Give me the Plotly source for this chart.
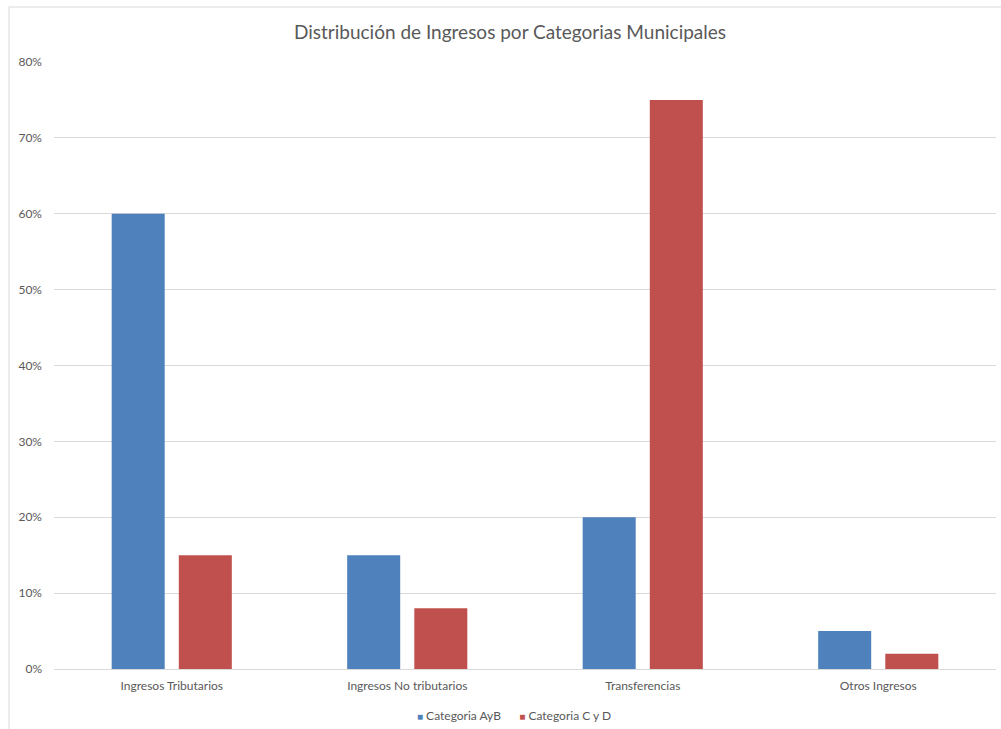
import plotly.graph_objects as go

# Income categories and shares (percent of total income) per municipal group
categorias = ["Ingresos Tributarios", "Ingresos No tributarios", "Transferencias", "Otros Ingresos"]
serie_ayb = [60, 15, 20, 5]
serie_cyd = [15, 8, 75, 2]
nombre_ayb = "Categoria AyB"
nombre_cyd = "Categoria C y D"
titulo = "Distribución de Ingresos por Categorias Municipales"
ticks_y = [0, 10, 20, 30, 40, 50, 60, 70, 80]

FONT = "Lato, 'Open Sans', sans-serif"
GRIS_TEXTO = "#595959"
GRIS_LINEA = "#D9D9D9"
AZUL = "#4F81BD"
ROJO = "#C0504D"

fig = go.Figure()
fig.add_trace(go.Bar(x=categorias, y=[v / 100 for v in serie_ayb], name=nombre_ayb,
                     marker=dict(color=AZUL, line=dict(width=0))))
fig.add_trace(go.Bar(x=categorias, y=[v / 100 for v in serie_cyd], name=nombre_cyd,
                     marker=dict(color=ROJO, line=dict(width=0))))

# Compact legend row under the axis: small coloured squares followed by the series names
leyenda = (f"<span style='color:{AZUL}; font-size:10px'>■</span> {nombre_ayb}"
           f"      <span style='color:{ROJO}; font-size:10px'>■</span> {nombre_cyd}")

fig.update_layout(
    width=1001, height=729,
    margin=dict(l=54, r=5, t=62, b=60),
    paper_bgcolor="white", plot_bgcolor="white",
    barmode="group", bargap=0.43, bargroupgap=0.21,
    font=dict(family=FONT, color=GRIS_TEXTO, size=12),
    title=dict(text=titulo, x=510 / 1001, xanchor="center", xref="container",
               y=1 - 32 / 729, yanchor="middle", yref="container",
               font=dict(size=19, color=GRIS_TEXTO, family=FONT)),
    showlegend=False,
    annotations=[dict(text=leyenda, xref="paper", yref="paper",
                      x=(514 - 54) / 942, xanchor="center",
                      y=-(715 - 669) / 607, yanchor="middle", showarrow=False,
                      font=dict(size=12, color=GRIS_TEXTO, family=FONT))],
    xaxis=dict(showgrid=False, showline=True, linecolor=GRIS_LINEA, linewidth=1,
               ticks="", tickfont=dict(size=12, color=GRIS_TEXTO),
               ticklabelstandoff=6),
    yaxis=dict(range=[0, 0.8], tickvals=[t / 100 for t in ticks_y],
               ticktext=[f"{t}%" for t in ticks_y],
               showgrid=True, gridcolor=GRIS_LINEA, gridwidth=1,
               zeroline=False, showline=False, ticks="",
               tickfont=dict(size=12, color=GRIS_TEXTO), ticklabelstandoff=11),
    shapes=[dict(type="rect", xref="paper", yref="paper",
                 x0=(9 - 54) / 942, x1=1.05, y0=-0.2, y1=(669 - 7) / 607,
                 line=dict(color=GRIS_LINEA, width=1), fillcolor="rgba(0,0,0,0)",
                 layer="below")],
)

fig.write_html("out.html")
